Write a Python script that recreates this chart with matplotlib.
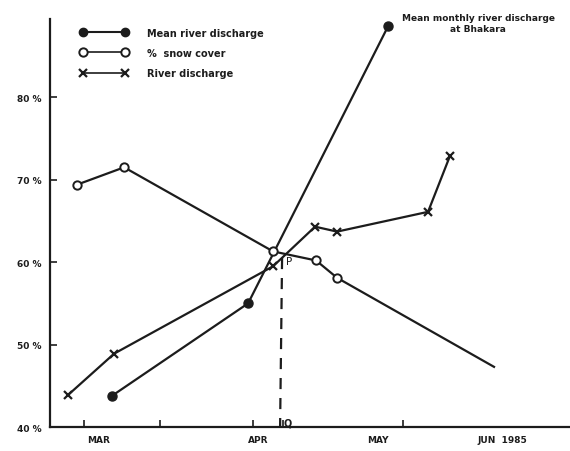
import matplotlib.pyplot as plt
from matplotlib.lines import Line2D

# x positions in days (axis runs 0..130), y in percent
month_labels = ['MAR', 'APR', 'MAY', 'JUN  1985']
month_pos = [12, 52, 82, 113]
tick_pos = [8.5, 27.5, 50.75, 58.25, 88.25]

mean_x = [15.5, 49.5, 84.5]
mean_y = [43.8, 55.0, 88.6]

snow_x = [6.75, 18.5, 55.75, 66.5, 71.75]
snow_y = [69.4, 71.5, 61.3, 60.2, 58.1]
snow_tail_x = [71.75, 111]
snow_tail_y = [58.1, 47.3]

river_x = [4.5, 16.0, 55.75, 66.25, 71.75, 94.5, 100.0]
river_y = [43.9, 48.9, 59.5, 64.3, 63.7, 66.1, 72.9]

pq_x = 58.0
pq_y = 60.5

ink = '#1c1c1c'
plt.rcParams['font.family'] = 'DejaVu Sans'

fig = plt.figure(figsize=(5.7, 4.52), dpi=100)
ax = fig.add_axes([0.088, 0.053, 0.912, 0.903])

ax.plot(mean_x, mean_y, color=ink, lw=1.6, marker='o', ms=6.5,
        mfc=ink, mec=ink)
ax.plot(snow_tail_x, snow_tail_y, color=ink, lw=1.6)
ax.plot(snow_x, snow_y, color=ink, lw=1.6, marker='o', ms=6,
        mfc='white', mec=ink, mew=1.4)
ax.plot(river_x, river_y, color=ink, lw=1.6, marker='x', ms=6, mew=1.6)

# P-Q dashed line
ax.plot([pq_x, pq_x - 0.5], [pq_y, 40], color=ink, lw=1.6, ls=(0, (5, 4)))
ax.text(pq_x + 0.9, pq_y - 0.4, 'P', fontsize=7.5, color=ink, ha='left', va='center')
ax.text(pq_x + 0.4, 40.6, 'Q', fontsize=7, color=ink, ha='left', va='center',
        fontweight='bold')

ax.text(107, 89.0, 'Mean monthly river discharge\nat Bhakara', fontsize=6.5,
        fontweight='bold', color=ink, ha='center', va='center', linespacing=1.3)

handles = [
    Line2D([], [], color=ink, lw=1.5, marker='o', ms=6, mfc=ink),
    Line2D([], [], color=ink, lw=1.2, marker='o', ms=6, mfc='white', mew=1.4),
    Line2D([], [], color=ink, lw=1.2, marker='x', ms=6, mew=1.6),
]
labels = ['Mean river discharge', '%  snow cover', 'River discharge']
leg = ax.legend(handles, labels, numpoints=2, frameon=False, loc='upper left',
                bbox_to_anchor=(0.04, 1.0), handlelength=5.0, handletextpad=1.9,
                labelspacing=1.05, fontsize=7)
for t in leg.get_texts():
    t.set_color(ink)
    t.set_fontweight('bold')

ax.set_xlim(0, 130)
ax.set_ylim(40, 89.5)
ax.set_yticks([40, 50, 60, 70, 80])
ax.set_yticklabels(['40 %', '50 %', '60 %', '70 %', '80 %'])
ax.set_xticks(month_pos)
ax.set_xticklabels(month_labels)
ax.set_xticks(tick_pos, minor=True)
ax.tick_params(axis='x', which='major', length=0, pad=6, labelsize=6.5, colors=ink)
ax.tick_params(axis='x', which='minor', length=5, width=1.2, direction='in', color=ink)
ax.tick_params(axis='y', length=5, width=1.2, direction='in', pad=6,
               labelsize=6.5, colors=ink)
for lab in ax.get_xticklabels() + ax.get_yticklabels():
    lab.set_fontweight('bold')

for s in ['top', 'right']:
    ax.spines[s].set_visible(False)
for s in ['left', 'bottom']:
    ax.spines[s].set_linewidth(1.6)
    ax.spines[s].set_color(ink)

fig.savefig('out.png', dpi=100)
